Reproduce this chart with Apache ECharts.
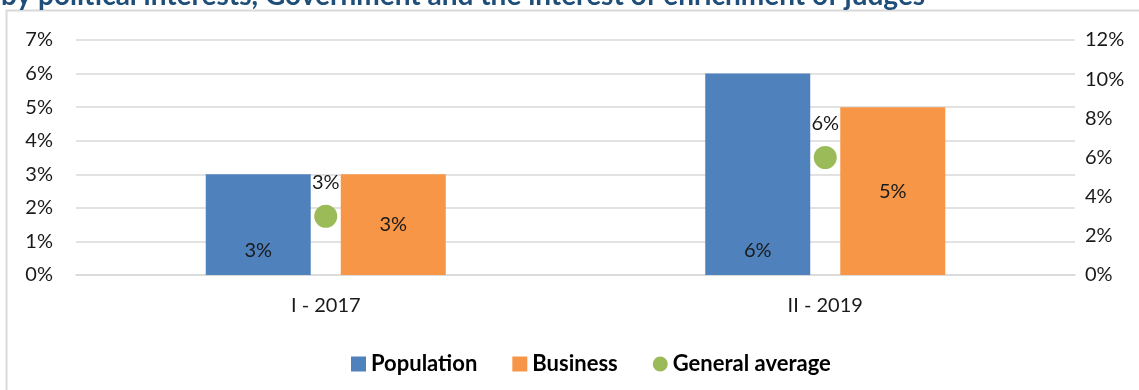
<!DOCTYPE html>
<html>
<head>
<meta charset="utf-8">
<script src="https://cdn.jsdelivr.net/npm/echarts@6/dist/echarts.min.js"></script>
<style>
  html, body { margin: 0; padding: 0; background: #fff; }
  #chart { width: 1139px; height: 390px; }
</style>
</head>
<body>
<div id="chart"></div>
<script>
// Survey waves and shares (in percent)
const categories = ['I - 2017', 'II - 2019'];
const population = [3, 6];
const business = [3, 5];
const generalAverage = [3, 6];
const leftTicks = { min: 0, max: 7, interval: 1 };
const rightTicks = { min: 0, max: 12, interval: 2 };
const titleText = 'by political interests, Government and the interest of enrichment of judges';

const FONT = 'Lato, "Open Sans", sans-serif';
const TXT = '#1a1a1a';
const GRID_C = '#d9d9d9';
const FS = 20;

const chart = echarts.init(document.getElementById('chart'), null, { renderer: 'canvas' });

chart.setOption({
  animation: false,
  textStyle: { fontFamily: FONT },
  graphic: [
    {
      type: 'rect',
      shape: { x: 6.5, y: 10.5, width: 1200, height: 420 },
      style: { fill: 'none', stroke: GRID_C, lineWidth: 2 },
      silent: true
    },
    {
      type: 'text',
      left: 1,
      top: -18,
      style: {
        text: titleText,
        fill: '#1f4e79',
        font: 'bold 28px ' + FONT
      }
    }
  ],
  grid: { left: 76, right: 64, top: 40, bottom: 115, containLabel: false },
  legend: {
    left: 346,
    top: 348,
    itemWidth: 15,
    itemHeight: 15,
    itemGap: 35,
    textStyle: { fontFamily: FONT, fontSize: 22, fontWeight: 'bold', color: '#000' },
    data: [
      { name: 'Population', icon: 'rect' },
      { name: 'Business', icon: 'rect' },
      { name: 'General average', icon: 'circle' }
    ]
  },
  xAxis: {
    type: 'category',
    data: categories,
    axisLine: { lineStyle: { color: GRID_C, width: 1.5 } },
    axisTick: { show: false },
    axisLabel: { color: TXT, fontSize: FS, margin: 21 }
  },
  yAxis: [
    {
      type: 'value',
      min: leftTicks.min, max: leftTicks.max, interval: leftTicks.interval,
      axisLine: { show: false },
      axisTick: { show: false },
      splitLine: { lineStyle: { color: GRID_C, width: 1.5 } },
      axisLabel: { color: TXT, fontSize: FS, margin: 23, formatter: '{value}%' }
    },
    {
      type: 'value',
      min: rightTicks.min, max: rightTicks.max, interval: rightTicks.interval,
      axisLine: { show: false },
      axisTick: { show: false },
      splitLine: { show: false },
      axisLabel: { color: TXT, fontSize: FS, margin: 10, formatter: '{value}%' }
    }
  ],
  series: [
    {
      name: 'Population',
      type: 'bar',
      data: population,
      barWidth: 105,
      barGap: '28.6%',
      itemStyle: { color: '#4f81bd' },
      label: {
        show: true, position: 'insideBottom', distance: 14,
        color: TXT, fontSize: FS, formatter: '{c}%'
      }
    },
    {
      name: 'Business',
      type: 'bar',
      data: business,
      barWidth: 105,
      barGap: '28.6%',
      itemStyle: { color: '#f79646' },
      label: {
        show: true, position: 'inside',
        color: TXT, fontSize: FS, formatter: '{c}%'
      }
    },
    {
      name: 'General average',
      type: 'scatter',
      yAxisIndex: 1,
      data: generalAverage,
      symbol: 'circle',
      symbolSize: 23,
      z: 5,
      itemStyle: { color: '#9bbb59', opacity: 1 },
      label: {
        show: true, position: 'top', distance: 12,
        color: TXT, fontSize: FS, formatter: '{c}%'
      }
    }
  ]
});
</script>
</body>
</html>
